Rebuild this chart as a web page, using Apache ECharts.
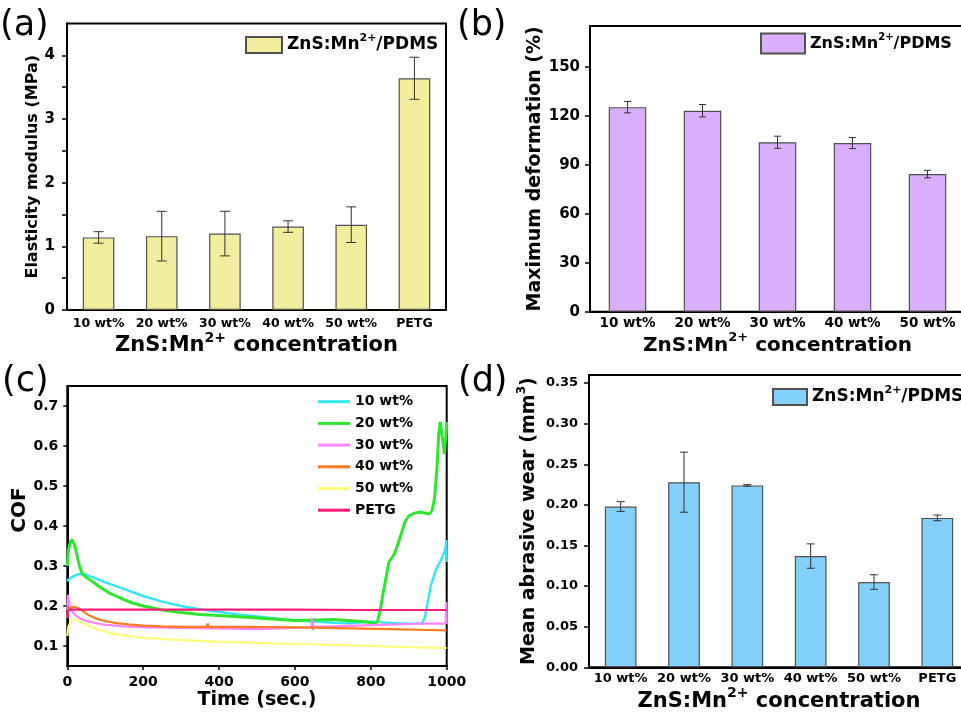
<!DOCTYPE html>
<html><head><meta charset="utf-8">
<script src="https://cdn.jsdelivr.net/npm/echarts@6/dist/echarts.min.js"></script>
<style>html,body{margin:0;padding:0;background:#fff}#c{width:961px;height:713px}</style>
</head><body><div id="c"></div>
<script>
// ---------- data ----------
const catsAD = ['10 wt%', '20 wt%', '30 wt%', '40 wt%', '50 wt%', 'PETG'];
const catsB = ['10 wt%', '20 wt%', '30 wt%', '40 wt%', '50 wt%'];

const modulusMean = [1.14, 1.16, 1.20, 1.31, 1.34, 3.64];
const modulusErr  = [0.09, 0.39, 0.35, 0.09, 0.28, 0.33];

const deformMean = [125.3, 123.1, 103.8, 103.3, 84.3];
const deformErr  = [3.5, 3.8, 3.7, 3.4, 2.3];

const wearMean = [0.198, 0.228, 0.224, 0.137, 0.105, 0.184];
const wearErr  = [0.006, 0.037, 0.001, 0.015, 0.009, 0.0035];

const ticksA = [0, 1, 2, 3, 4];
const minorTicksA = [0, 0.5, 1, 1.5, 2, 2.5, 3, 3.5, 4];
const ticksB = [0, 30, 60, 90, 120, 150];
const ticksCy = [0.1, 0.2, 0.3, 0.4, 0.5, 0.6, 0.7];
const ticksD = [0, 0.05, 0.10, 0.15, 0.20, 0.25, 0.30, 0.35];

const cofNames = ['10 wt%', '20 wt%', '30 wt%', '40 wt%', '50 wt%', 'PETG'];
const cof10 = [[0,0.262],[5,0.268],[15,0.274],[30,0.28],[45,0.279],[60,0.274],[80,0.267],[100,0.259],[130,0.249],[160,0.239],[200,0.225],[250,0.211],[300,0.2],[350,0.192],[400,0.185],[450,0.179],[500,0.174],[550,0.169],[600,0.164],[650,0.161],[700,0.158],[750,0.157],[800,0.161],[830,0.159],[870,0.157],[910,0.156],[935,0.157],[942,0.17],[950,0.21],[958,0.25],[966,0.275],[975,0.298],[985,0.315],[992,0.33],[997,0.345],[999,0.365],[1000,0.31]];
const cof20 = [[0,0.3],[3,0.34],[8,0.36],[12,0.366],[18,0.355],[25,0.33],[32,0.3],[40,0.28],[50,0.272],[65,0.262],[85,0.248],[110,0.233],[140,0.22],[170,0.208],[200,0.2],[250,0.19],[300,0.184],[350,0.179],[400,0.176],[450,0.173],[500,0.17],[550,0.167],[600,0.164],[650,0.165],[700,0.166],[750,0.163],[790,0.16],[810,0.156],[818,0.162],[825,0.19],[832,0.23],[840,0.27],[848,0.31],[855,0.32],[862,0.33],[870,0.35],[880,0.38],[890,0.41],[900,0.425],[915,0.432],[930,0.435],[945,0.432],[955,0.43],[962,0.44],[968,0.47],[974,0.54],[979,0.63],[983,0.66],[987,0.655],[990,0.61],[994,0.58],[997,0.585],[999,0.64],[1000,0.66]];
const cof30 = [[0,0.19],[2,0.228],[5,0.205],[10,0.19],[20,0.178],[35,0.168],[60,0.16],[100,0.153],[150,0.149],[200,0.147],[300,0.145],[400,0.144],[500,0.142],[600,0.145],[644,0.147],[646,0.17],[648,0.14],[650,0.148],[700,0.149],[800,0.152],[900,0.155],[950,0.156],[997,0.156],[999,0.21],[1000,0.155]];
const cof40 = [[0,0.17],[3,0.192],[10,0.196],[18,0.198],[28,0.195],[40,0.188],[55,0.178],[75,0.169],[100,0.162],[130,0.157],[160,0.154],[200,0.151],[250,0.149],[300,0.148],[368,0.148],[370,0.156],[372,0.148],[450,0.148],[550,0.147],[650,0.146],[750,0.144],[850,0.142],[950,0.14],[1000,0.139]];
const cof50 = [[0,0.125],[3,0.148],[8,0.16],[15,0.167],[25,0.165],[40,0.158],[60,0.149],[90,0.138],[120,0.131],[160,0.125],[200,0.12],[250,0.117],[300,0.115],[350,0.113],[400,0.111],[500,0.108],[600,0.105],[700,0.103],[800,0.1],[900,0.097],[1000,0.095]];
const cofPETG = [[0,0.17],[2,0.19],[10,0.191],[200,0.191],[400,0.191],[600,0.191],[800,0.19],[1000,0.19]];

// ---------- styles ----------
const FONT = 'DejaVu Sans';
const cofColors = ['#35E6FA', '#2EE62E', '#FF82FF', '#FF7A22', '#FFFF78', '#FF1C78'];
const cofWidths = [2.4, 3, 2.2, 2.2, 2.2, 2.2];
const barColors = { a: '#F3EE9E', b: '#D9AEFB', d: '#83D0FA' };

function rich(m) {
  const s = Math.round(m * 0.65);
  return {
    b: { fontFamily: FONT, fontWeight: 'bold', fontSize: m, lineHeight: Math.round(m * 1.2), color: '#000' },
    s: { fontFamily: FONT, fontWeight: 'bold', fontSize: s, lineHeight: s, padding: [0, 0, Math.round(m * 0.76), 0], color: '#000' }
  };
}
const ZNS = '{b|ZnS:Mn}{s|2+}';
const axisLine = { show: true, onZero: false, lineStyle: { color: '#000', width: 2 } };
const tickStyle = { color: '#000', width: 1.5 };
function lab(size, margin, extra) {
  return Object.assign({ fontFamily: FONT, fontWeight: 'bold', fontSize: size, color: '#000', margin: margin }, extra || {});
}
function nameStyle(size, extra) {
  return Object.assign({ fontFamily: FONT, fontWeight: 'bold', fontSize: size, color: '#000' }, extra || {});
}

function errRender(half) {
  return function (params, api) {
    const x = api.value(0);
    const lo = api.coord([x, api.value(1)]);
    const hi = api.coord([x, api.value(2)]);
    const st = { stroke: '#333', lineWidth: 1 };
    return { type: 'group', children: [
      { type: 'line', shape: { x1: lo[0], y1: lo[1], x2: hi[0], y2: hi[1] }, style: st },
      { type: 'line', shape: { x1: lo[0] - half, y1: lo[1], x2: lo[0] + half, y2: lo[1] }, style: st },
      { type: 'line', shape: { x1: hi[0] - half, y1: hi[1], x2: hi[0] + half, y2: hi[1] }, style: st }
    ]};
  };
}
function errData(mean, err) { return mean.map((m, i) => [i, m - err[i], m + err[i]]); }

const gridBase = { show: true, borderColor: '#000', borderWidth: 2, backgroundColor: 'transparent', containLabel: false, outerBoundsMode: 'none' };

const option = {
  animation: false,
  backgroundColor: '#fff',
  grid: [
    Object.assign({ left: 67, top: 23.5, width: 379, height: 286.5 }, gridBase),
    Object.assign({ left: 590, top: 26, width: 375, height: 285.7 }, gridBase),
    Object.assign({ left: 67.3, top: 386, width: 379.4, height: 280 }, gridBase),
    Object.assign({ left: 589, top: 375, width: 380, height: 292.3 }, gridBase)
  ],
  xAxis: [
    { type: 'category', gridIndex: 0, data: catsAD, axisLine: axisLine, axisTick: { show: false },
      axisLabel: lab(12.5, 7, { interval: 0 }), splitLine: { show: false },
      name: ZNS + '{b| concentration}', nameLocation: 'middle', nameGap: 22, nameTextStyle: { rich: rich(21) } },
    { type: 'category', gridIndex: 1, data: catsB, axisLine: axisLine, axisTick: { show: false },
      axisLabel: lab(13.5, 5, { interval: 0 }), splitLine: { show: false },
      name: ZNS + '{b| concentration}', nameLocation: 'middle', nameGap: 20, nameTextStyle: { rich: rich(20) } },
    { type: 'value', gridIndex: 2, min: 0, max: 1000, interval: 200, axisLine: axisLine,
      axisTick: { show: true, length: 4, lineStyle: tickStyle },
      axisLabel: lab(14, 9, { formatter: v => String(v) }), splitLine: { show: false },
      name: 'Time (sec.)', nameLocation: 'middle', nameGap: 25, nameTextStyle: nameStyle(19) },
    { type: 'category', gridIndex: 3, data: catsAD, axisLine: axisLine, axisTick: { show: false },
      axisLabel: lab(13, 5, { interval: 0 }), splitLine: { show: false },
      name: ZNS + '{b| concentration}', nameLocation: 'middle', nameGap: 20, nameTextStyle: { rich: rich(21) } }
  ],
  yAxis: [
    { type: 'value', gridIndex: 0, min: 0, max: 4.5, axisLine: axisLine,
      axisTick: { show: true, length: 5, customValues: minorTicksA, lineStyle: tickStyle },
      axisLabel: lab(15, 12, { customValues: ticksA }), splitLine: { show: false },
      name: 'Elasticity modulus (MPa)', nameLocation: 'middle', nameGap: 26, nameTextStyle: nameStyle(16) },
    { type: 'value', gridIndex: 1, min: 0, max: 175, axisLine: axisLine,
      axisTick: { show: true, length: 5, customValues: ticksB, lineStyle: tickStyle },
      axisLabel: lab(15, 10, { customValues: ticksB }), splitLine: { show: false },
      name: 'Maximum deformation (%)', nameLocation: 'middle', nameGap: 40, nameTextStyle: nameStyle(19) },
    { type: 'value', gridIndex: 2, min: 0.05, max: 0.75, axisLine: axisLine,
      axisTick: { show: true, length: 4, customValues: ticksCy, lineStyle: tickStyle },
      axisLabel: lab(14, 9, { customValues: ticksCy, formatter: v => v.toFixed(1) }), splitLine: { show: false },
      name: 'COF', nameLocation: 'middle', nameGap: 35, nameTextStyle: nameStyle(20, { padding: [0, 0, 0, 32] }) },
    { type: 'value', gridIndex: 3, min: 0, max: 0.36, axisLine: axisLine,
      axisTick: { show: true, length: 5, customValues: ticksD, lineStyle: tickStyle },
      axisLabel: lab(13, 11, { customValues: ticksD, formatter: v => v.toFixed(2) }), splitLine: { show: false },
      name: '{b|Mean abrasive wear (mm}{s|3}{b|)}', nameLocation: 'middle', nameGap: 37, nameTextStyle: { rich: rich(19) } }
  ],
  legend: [
    { data: ['barA'], left: 245, top: 33, padding: 0, itemWidth: 36, itemHeight: 16, icon: 'rect',
      formatter: () => ZNS + '{b|/PDMS}', textStyle: { rich: rich(17) } },
    { data: ['barB'], left: 760, top: 32.5, padding: 0, itemWidth: 44, itemHeight: 20, icon: 'rect',
      formatter: () => ZNS + '{b|/PDMS}', textStyle: { rich: rich(16) } },
    { data: ['barD'], left: 772, top: 385, padding: 0, itemWidth: 34, itemHeight: 16, icon: 'rect',
      formatter: () => ZNS + '{b|/PDMS}', textStyle: { rich: rich(17) } },
    { data: cofNames, left: 318, top: 393.7, padding: 0, orient: 'vertical', icon: 'rect',
      itemWidth: 32, itemHeight: 3, itemGap: 5.7,
      textStyle: { fontFamily: FONT, fontWeight: 'bold', fontSize: 14, lineHeight: 16, color: '#000' } }
  ],
  graphic: [
    { type: 'text', left: 0, top: 8, style: { text: '(a)', font: '35px "DejaVu Sans"', fill: '#000' } },
    { type: 'text', left: 457, top: 8, style: { text: '(b)', font: '35px "DejaVu Sans"', fill: '#000' } },
    { type: 'text', left: 2, top: 364, style: { text: '(c)', font: '35px "DejaVu Sans"', fill: '#000' } },
    { type: 'text', left: 458, top: 364, style: { text: '(d)', font: '35px "DejaVu Sans"', fill: '#000' } }
  ],
  series: [
    { name: 'barA', type: 'bar', xAxisIndex: 0, yAxisIndex: 0, data: modulusMean, barWidth: '50%',
      itemStyle: { color: barColors.a, borderColor: '#505050', borderWidth: 1.2 } },
    { type: 'custom', xAxisIndex: 0, yAxisIndex: 0, renderItem: errRender(5), data: errData(modulusMean, modulusErr), z: 5 },
    { name: 'barB', type: 'bar', xAxisIndex: 1, yAxisIndex: 1, data: deformMean, barWidth: '50%',
      itemStyle: { color: barColors.b, borderColor: '#505050', borderWidth: 1.2 } },
    { type: 'custom', xAxisIndex: 1, yAxisIndex: 1, renderItem: errRender(3.5), data: errData(deformMean, deformErr), z: 5 },
    { name: 'barD', type: 'bar', xAxisIndex: 3, yAxisIndex: 3, data: wearMean, barWidth: '50%',
      itemStyle: { color: barColors.d, borderColor: '#505050', borderWidth: 1.2 } },
    { type: 'custom', xAxisIndex: 3, yAxisIndex: 3, renderItem: errRender(4), data: errData(wearMean, wearErr), z: 5 }
  ].concat([cof10, cof20, cof30, cof40, cof50, cofPETG].map((d, i) => ({
    name: cofNames[i], type: 'line', xAxisIndex: 2, yAxisIndex: 2, data: d,
    symbol: 'none', showSymbol: false, color: cofColors[i],
    lineStyle: { color: cofColors[i], width: cofWidths[i] }
  })))
};

const chart = echarts.init(document.getElementById('c'), null, { renderer: 'canvas' });
chart.setOption(option);
</script>
</body></html>
